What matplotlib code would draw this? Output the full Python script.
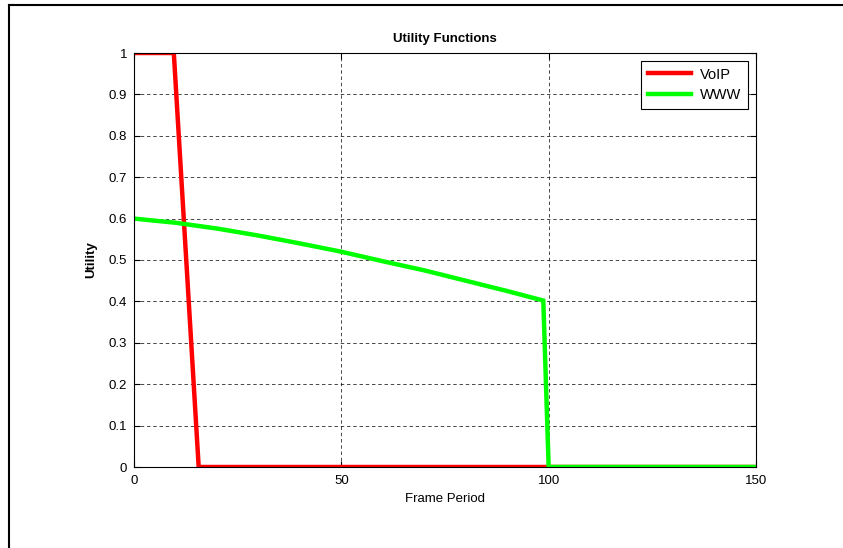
import matplotlib
matplotlib.use("Agg")
import matplotlib.pyplot as plt
from matplotlib.lines import Line2D

plt.rcParams['font.family'] = ['Liberation Sans', 'DejaVu Sans']

# VoIP utility
voip_x = [0, 9.6, 15.6, 150]
voip_y = [1.0, 1.0, 0.0, 0.0]

# WWW utility
www_x = [0, 10, 20, 30, 40, 50, 60, 70, 80, 90, 98.7, 100, 150]
www_y = [0.600, 0.590, 0.576, 0.559, 0.540, 0.520, 0.497, 0.475, 0.450, 0.425, 0.402, 0.0, 0.0]

x_ticks = [0, 50, 100, 150]
y_ticks = [0, 0.1, 0.2, 0.3, 0.4, 0.5, 0.6, 0.7, 0.8, 0.9, 1]
y_labels = ['0', '0.1', '0.2', '0.3', '0.4', '0.5', '0.6', '0.7', '0.8', '0.9', '1']

fig = plt.figure(figsize=(8.43, 5.48), dpi=100)
ax = fig.add_axes([134 / 843, 1 - 467 / 548, (756 - 134) / 843, (467 - 53) / 548])

ax.plot(voip_x, voip_y, color='#ff0000', linewidth=3.2, label='VoIP', solid_joinstyle='miter')
ax.plot(www_x, www_y, color='#00ff00', linewidth=3.2, label='WWW', solid_joinstyle='miter')

ax.set_xlim(0, 150)
ax.set_ylim(0, 1)
ax.set_xticks(x_ticks)
ax.set_yticks(y_ticks)
ax.set_yticklabels(y_labels)
ax.tick_params(direction='in', top=True, right=True, length=4, width=0.8,
               labelsize=9.5, colors='black')
ax.tick_params(axis='x', pad=6)
ax.tick_params(axis='y', pad=5)
for s in ax.spines.values():
    s.set_linewidth(0.8)
    s.set_color('black')

ax.grid(True, color='black', linestyle=(0, (5, 4)), linewidth=0.5)
ax.set_axisbelow(True)

ax.set_title('Utility Functions', fontsize=9.5, fontweight='bold', pad=8)
ax.set_xlabel('Frame Period', fontsize=9.5, labelpad=4)
ax.set_ylabel('Utility', fontsize=9.5, fontweight='bold', labelpad=8)

leg = ax.legend(loc='upper right', fontsize=10.5, fancybox=False, framealpha=1,
                edgecolor='black', borderaxespad=0.55, handlelength=3.0,
                handletextpad=0.6, borderpad=0.45, labelspacing=0.45)
leg.get_frame().set_linewidth(0.8)

# thin frame on top and left edge of the figure
fig.add_artist(Line2D([8.5 / 843, 1], [1 - 4.5 / 548] * 2, transform=fig.transFigure,
                      color='black', linewidth=1.5))
fig.add_artist(Line2D([8.5 / 843] * 2, [0, 1 - 4.5 / 548], transform=fig.transFigure,
                      color='black', linewidth=1.5))

fig.savefig('out.png', dpi=100)
